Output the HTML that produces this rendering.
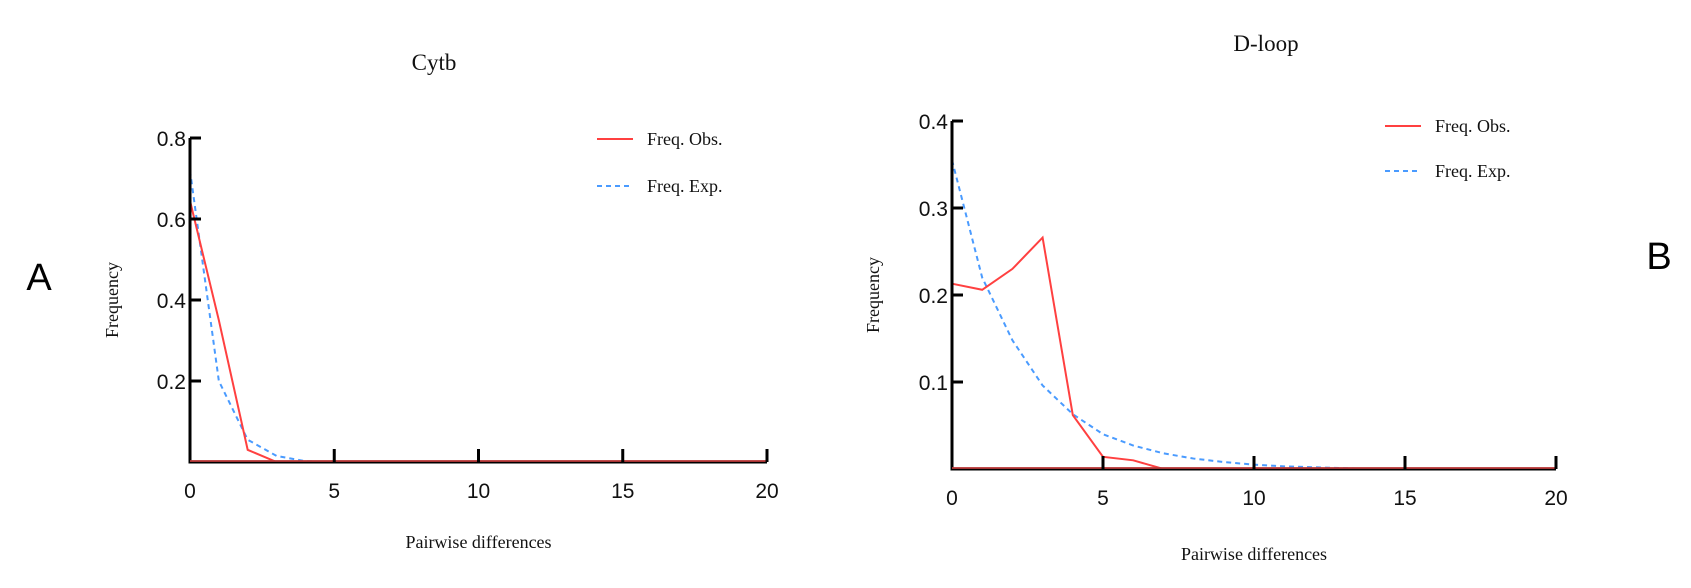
<!DOCTYPE html>
<html><head><meta charset="utf-8">
<style>
html,body{margin:0;padding:0;background:#fff;}
svg{display:block;}
.tk{font-family:"Liberation Sans",sans-serif;font-size:21px;fill:#111;}
.sf{font-family:"Liberation Serif",serif;fill:#111;}
</style></head>
<body>
<svg id="fig" width="1691" height="588" viewBox="0 0 1691 588">
<text x="39" y="290" font-family="Liberation Sans,sans-serif" font-size="38" fill="#000" text-anchor="middle">A</text>
<text x="1659" y="269" font-family="Liberation Sans,sans-serif" font-size="38" fill="#000" text-anchor="middle">B</text>
</svg>
<script>
const xTicks=[0,5,10,15,20];
const cytbObs=[0.645,0.35,0.03,0,0,0,0,0,0,0,0,0,0,0,0,0,0,0,0,0,0];
const cytbExp=[0.72,0.2,0.055,0.015,0.002,0,0,0,0,0,0,0,0,0,0,0,0,0,0,0,0];
const cytbYTicks=[0.2,0.4,0.6,0.8];
const dloopObs=[0.213,0.206,0.23,0.266,0.062,0.014,0.01,0,0,0,0,0,0,0,0,0,0,0,0,0,0];
const dloopExp=[0.355,0.22,0.148,0.096,0.063,0.04,0.027,0.018,0.012,0.008,0.005,0.003,0.002,0.001,0,0,0,0,0,0,0];
const dloopYTicks=[0.1,0.2,0.3,0.4];
const NS="http://www.w3.org/2000/svg";
const svg=document.getElementById('fig');
function mk(tag,attrs,parent){const e=document.createElementNS(NS,tag);for(const k in attrs)e.setAttribute(k,attrs[k]);(parent||svg).appendChild(e);return e;}
function chart(cfg){
  const g=mk('g',{});
  
  
  const xs=v=>cfg.x0+(cfg.x1-cfg.x0)*v/20;
  const ys=v=>cfg.yb+(cfg.yt-cfg.yb)*v/cfg.ymax;
  const t=mk('text',{x:cfg.tx,y:cfg.ty,'font-size':23,'text-anchor':'middle',class:'sf'},g);t.textContent=cfg.title;
  
  
  const xl=mk('text',{x:(cfg.x0+cfg.x1)/2,y:cfg.xly,'font-size':18,'text-anchor':'middle',class:'sf'},g);xl.textContent='Pairwise differences';
  
  
  const yl=mk('text',{x:0,y:0,'font-size':18,'text-anchor':'middle',class:'sf',transform:`translate(${cfg.ylx},${(cfg.yt+cfg.yb)/2}) rotate(-90)`},g);yl.textContent='Frequency';
  
  
  const mkLine=(arr,stroke,dash,name)=>{
    const p=mk('polyline',{points:arr.map((v,i)=>xs(i)+','+ys(v)).join(' '),fill:'none',stroke:stroke,'stroke-width':2,'stroke-dasharray':dash},g);
    
    
  };
  mkLine(cfg.exp,'#4a9bff','5,4','series-freq-exp');
  mkLine(cfg.obs,'#ff4040','none','series-freq-obs');
  const ax=mk('path',{d:`M${cfg.x0},${cfg.yt} V${cfg.yb} H${cfg.x1}`,fill:'none',stroke:'#000','stroke-width':3},g);
  
  
  mk('line',{x1:cfg.x0,y1:cfg.yb-1,x2:cfg.x1,y2:cfg.yb-1,stroke:'#d04040','stroke-width':2,opacity:0.8},g);
  xTicks.forEach(v=>{
    if(v>0){const l=mk('line',{x1:xs(v),y1:cfg.yb,x2:xs(v),y2:cfg.yb-13,stroke:'#000','stroke-width':3},g);
    
    }
    const tt=mk('text',{x:xs(v),y:cfg.yb+36,'text-anchor':'middle',class:'tk'},g);tt.textContent=v;
    
    
  });
  cfg.yticks.forEach(v=>{
    const l=mk('line',{x1:cfg.x0,y1:ys(v),x2:cfg.x0+11,y2:ys(v),stroke:'#000','stroke-width':3},g);
    
    
    const tt=mk('text',{x:cfg.x0-4,y:ys(v)+8,'text-anchor':'end',class:'tk'},g);tt.textContent=v;
    
    
  });
  const leg=[['Freq. Obs.','#ff4040','none',cfg.ly1],['Freq. Exp.','#4a9bff','5,4',cfg.ly2]];
  leg.forEach(L=>{
    const lg=mk('g',{},g);
    
    
    mk('line',{x1:cfg.lx,y1:L[3],x2:cfg.lx+36,y2:L[3],stroke:L[1],'stroke-width':2,'stroke-dasharray':L[2]},lg);
    const tx=mk('text',{x:cfg.lx+50,y:L[3]+6,'font-size':18,class:'sf'},lg);tx.textContent=L[0];
  });
}
chart({name:'chart-cytb',title:'Cytb',tx:434,ty:70,x0:190,x1:767,yt:138,yb:462,ymax:0.8,yticks:cytbYTicks,obs:cytbObs,exp:cytbExp,xly:548,ylx:118,lx:597,ly1:139,ly2:186});
chart({name:'chart-dloop',title:'D-loop',tx:1266,ty:51,x0:952,x1:1556,yt:121,yb:469,ymax:0.4,yticks:dloopYTicks,obs:dloopObs,exp:dloopExp,xly:560,ylx:879,lx:1385,ly1:126,ly2:171});
</script>
</body></html>
